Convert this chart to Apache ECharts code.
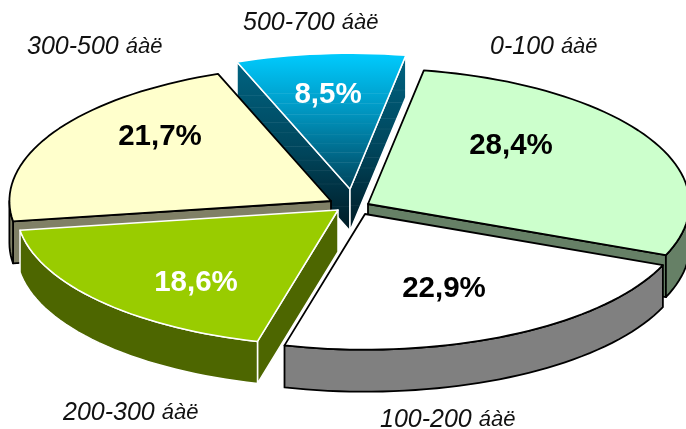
<!DOCTYPE html>
<html>
<head>
<meta charset="utf-8">
<script src="https://cdn.jsdelivr.net/npm/echarts@6/dist/echarts.min.js"></script>
<style>
    html, body { margin: 0; padding: 0; background: #fff; }
    #chart { width: 686px; height: 429px; }
</style>
</head>
<body>
<div id="chart"></div>
<script>
// data, clockwise from the first slice
const categories = ['0-100', '100-200', '200-300', '300-500', '500-700'];
const unit = 'áàë';
const shares = [28.4, 22.9, 18.6, 21.7, 8.5];
const shareLabels = ['28,4%', '22,9%', '18,6%', '21,7%', '8,5%'];

// look of each slice, same order as above
const topColors = ['#ccffcc', '#ffffff', '#99cc00', '#ffffcc', 'blue'];
const sideColors = ['#668066', '#808080', '#4d6600', '#808066', 'darkblue'];
const edgeColors = ['#000', '#000', '#fff', '#000', '#fff'];
const percentColors = ['#000', '#000', '#fff', '#000', '#fff'];

// slice tips (exploded pie), and where the texts go
const tips = [[368, 204], [365, 214], [338, 210], [331, 201], [350, 189]];
const percentPos = [[511, 146], [444, 289], [196, 283], [160, 137], [328, 95]];
const categoryPos = [[490, 47], [380, 420], [63, 413], [27, 47], [243, 23]];
const drawOrder = [2, 4, 3, 1, 0];   // z2 per slice, back to front

const RX = 321.6, RY = 135.7, DEPTH = 42;
const START_ANGLE = -80;   // degrees clockwise from +x

const total = shares.reduce((a, b) => a + b, 0);

// the blue slice has a banded gradient, the pale lines sit at these offsets
function banded(colors, bands, pale) {
    const stops = colors.map(c => ({ offset: c[0], color: c[1] }));
    const mix = off => {
        let k = 0;
        while (k < colors.length - 2 && colors[k + 1][0] < off) k++;
        const a = colors[k], b = colors[k + 1], f = (off - a[0]) / (b[0] - a[0]);
        const ca = echarts.color.parse(a[1]), cb = echarts.color.parse(b[1]);
        return [0, 1, 2].map(n => ca[n] + (cb[n] - ca[n]) * f);
    };
    const out = stops.slice();
    bands.forEach(off => {
        const c = mix(off);
        const lit = 'rgb(' + c.map(v => Math.round(v + (255 - v) * pale)).join(',') + ')';
        const base = 'rgb(' + c.map(Math.round).join(',') + ')';
        out.push({ offset: off - 0.004, color: base }, { offset: off, color: lit }, { offset: off + 0.004, color: base });
    });
    return out.sort((a, b) => a.offset - b.offset);
}
const blueTop = new echarts.graphic.LinearGradient(0, 0, 0, 1, banded(
    [[0, '#00ccff'], [0.45, '#0093bd'], [1, '#00435a']],
    [0.3, 0.37, 0.45, 0.52, 0.6, 0.66, 0.73, 0.8, 0.9], 0.12
));
const blueSide = new echarts.graphic.LinearGradient(0, 0, 0, 1, banded(
    [[0, '#006482'], [0.55, '#00445a'], [1, '#001a24']],
    [0.2, 0.27, 0.36, 0.42, 0.5, 0.58, 0.64, 0.72, 0.85], 0.08
));

function rim(tip, deg, drop) {
    const t = deg * Math.PI / 180;
    return [tip[0] + RX * Math.cos(t), tip[1] + RY * Math.sin(t) + (drop || 0)];
}

function arc(tip, from, to, drop) {
    const pts = [];
    const n = Math.max(2, Math.ceil(Math.abs(to - from) / 2));
    for (let i = 0; i <= n; i++) {
        pts.push(rim(tip, from + (to - from) * i / n, drop));
    }
    return pts;
}

function renderSlice(params, api) {
    const i = params.dataIndex;
    const value = api.value(0);
    const before = shares.slice(0, i).reduce((a, b) => a + b, 0);
    const a0 = START_ANGLE + before / total * 360;
    const a1 = a0 + value / total * 360;
    const tip = tips[i];
    const low = [tip[0], tip[1] + DEPTH];
    const z = drawOrder[i] * 10;

    const top = topColors[i] === 'blue' ? blueTop : topColors[i];
    const side = sideColors[i] === 'darkblue' ? blueSide : sideColors[i];
    const edge = {
        stroke: edgeColors[i],
        lineWidth: edgeColors[i] === '#000' ? 1.8 : 1.5,
        lineJoin: 'round'
    };
    const poly = (points, fill, zz) => ({
        type: 'polygon', z2: z + zz,
        shape: { points: points },
        style: Object.assign({ fill: fill }, edge)
    });

    const children = [];
    // cut faces, only the ones turned to the viewer
    const toRad = Math.PI / 180;
    if (Math.cos(a0 * toRad) < 0) {
        children.push(poly([tip, rim(tip, a0), rim(tip, a0, DEPTH), low], side, 1));
    }
    if (Math.cos(a1 * toRad) > 0) {
        children.push(poly([tip, rim(tip, a1), rim(tip, a1, DEPTH), low], side, 1));
    }
    // outer wall, only the front half of the ellipse shows
    for (const k of [0, 360]) {
        const from = Math.max(a0, k), to = Math.min(a1, k + 180);
        if (to > from) {
            children.push(poly(arc(tip, from, to).concat(arc(tip, to, from, DEPTH)), side, 2));
        }
    }
    // top surface
    children.push(poly([tip].concat(arc(tip, a0, a1)), top, 3));
    // texts
    children.push({
        type: 'text', z2: 100,
        style: {
            x: percentPos[i][0], y: percentPos[i][1],
            text: shareLabels[i],
            align: 'center', verticalAlign: 'middle',
            fontFamily: 'Liberation Sans', fontWeight: 'bold', fontSize: 29.5,
            fill: percentColors[i]
        }
    });
    children.push({
        type: 'text', z2: 100,
        style: {
            x: categoryPos[i][0], y: categoryPos[i][1],
            text: categories[i] + ' {u|' + unit + '}',
            align: 'left', verticalAlign: 'middle',
            fontFamily: 'Liberation Sans', fontStyle: 'italic', fontSize: 25,
            fill: '#111',
            rich: { u: { fontFamily: 'Liberation Sans', fontStyle: 'italic', fontSize: 22, fill: '#111' } }
        }
    });
    return { type: 'group', children: children };
}

const chart = echarts.init(document.getElementById('chart'));
chart.setOption({
    animation: false,
    backgroundColor: '#fff',
    series: [{
        type: 'custom',
        coordinateSystem: 'none',
        renderItem: renderSlice,
        data: shares.map(v => [v])
    }]
});
</script>
</body>
</html>
